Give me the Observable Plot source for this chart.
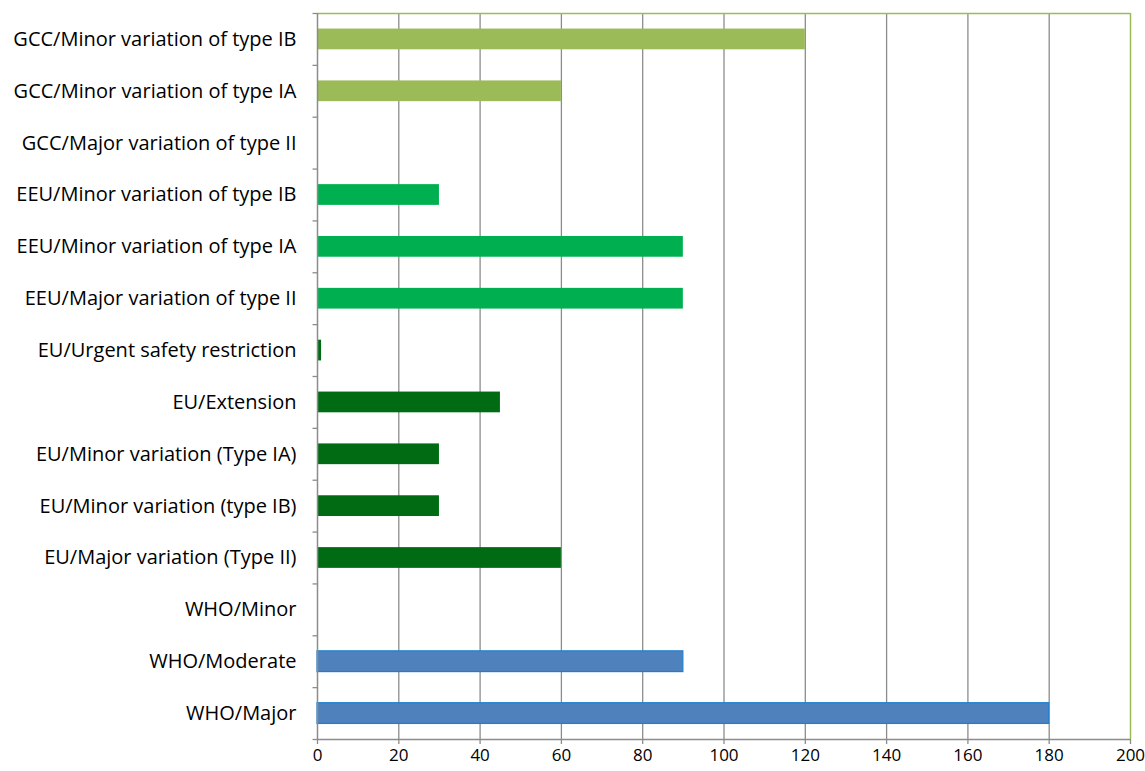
<!DOCTYPE html>
<html><head><meta charset="utf-8">
<script src="https://cdn.jsdelivr.net/npm/d3@7"></script>
<script src="https://cdn.jsdelivr.net/npm/@observablehq/plot@0.6"></script>
<style>body{margin:0;background:#fff}</style>
</head><body><div id="chart"></div>
<script>
const categories = [
  "GCC/Minor variation of type IB",
  "GCC/Minor variation of type IA",
  "GCC/Major variation of type II",
  "EEU/Minor variation of type IB",
  "EEU/Minor variation of type IA",
  "EEU/Major variation of type II",
  "EU/Urgent safety restriction",
  "EU/Extension",
  "EU/Minor variation (Type IA)",
  "EU/Minor variation (type IB)",
  "EU/Major variation (Type II)",
  "WHO/Minor",
  "WHO/Moderate",
  "WHO/Major"
];
const values = [120, 60, 0, 30, 90, 90, 1, 45, 30, 30, 60, 0, 90, 180];
const groups = ["GCC","GCC","GCC","EEU","EEU","EEU","EU","EU","EU","EU","EU","WHO","WHO","WHO"];
const groupColors = {GCC: "#9BBB59", EEU: "#00B050", EU: "#006B12", WHO: "#4F81BD"};
const groupStroke = {GCC: "none", EEU: "none", EU: "none", WHO: "#1E7FD0"};
const xTicks = [0, 20, 40, 60, 80, 100, 120, 140, 160, 180, 200];

const data = categories.map((c, i) => ({category: c, value: values[i], group: groups[i]}));

const W = 1145, H = 771, mt = 13, mb = 32, ml = 317, mr = 15;
const step = (H - mt - mb) / categories.length;

const chart = Plot.plot({
  width: W, height: H,
  marginTop: mt, marginBottom: mb, marginLeft: ml, marginRight: mr,
  style: {fontFamily: "'Open Sans', sans-serif", fontSize: "18px", color: "#000", background: "#fff"},
  x: {domain: [0, 200], ticks: xTicks, label: null},
  y: {domain: categories, paddingInner: 0.6, paddingOuter: 0.3, round: false, label: null},
  marks: [
    Plot.ruleX(xTicks.slice(1, -1), {stroke: "#8c8c8c", strokeWidth: 1.3}),
    Plot.ruleX([200], {stroke: "#9BBB59", strokeWidth: 1.5}),
    Plot.ruleY([categories[0]], {dy: -step / 2, stroke: "#9BBB59", strokeWidth: 1.5}),
    Plot.barX(data, {
      y: "category", x: "value",
      fill: d => groupColors[d.group],
      stroke: d => groupStroke[d.group],
      strokeWidth: 1.2
    }),
    Plot.ruleX([0], {stroke: "#8c8c8c", strokeWidth: 1.5}),
    Plot.ruleY(categories, {y: d => d, dy: -step / 2, x1: -1.1, x2: 0, stroke: "#8c8c8c", strokeWidth: 1.3, clip: false}),
    Plot.ruleY([categories[categories.length - 1]], {dy: step / 2, stroke: "#8c8c8c", strokeWidth: 1.5}),
    Plot.ruleY([categories[categories.length - 1]], {dy: step / 2, x1: -1.1, x2: 0, stroke: "#8c8c8c", strokeWidth: 1.3}),
    Plot.axisY({tickSize: 0, tickPadding: 21, fontSize: 20, label: null}),
    Plot.axisX({ticks: xTicks, tickSize: 5, tickPadding: 4, stroke: "#8c8c8c", strokeWidth: 1.3, fontSize: 17, label: null})
  ]
});
document.getElementById("chart").appendChild(chart);
</script></body></html>
